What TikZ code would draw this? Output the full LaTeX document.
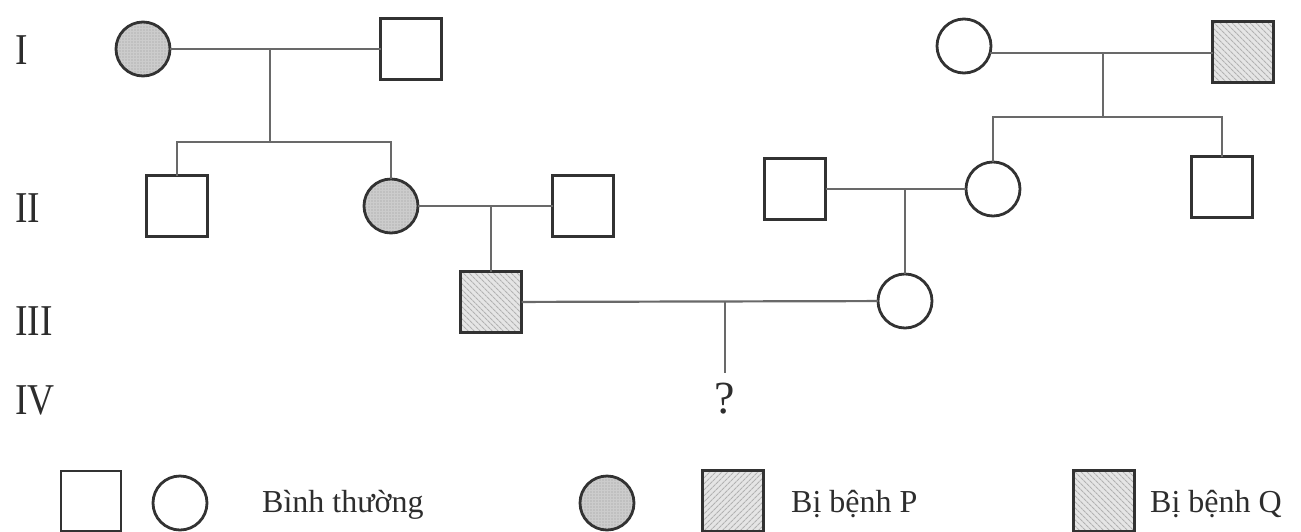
\documentclass[tikz,border=0pt]{standalone}
\usepackage{fontspec}
\setmainfont{Liberation Serif}
\newfontfamily\numfont[FakeStretch=0.85]{Liberation Serif}
\usetikzlibrary{patterns.meta}
\definecolor{linegray}{RGB}{105,105,105}
\definecolor{symdark}{RGB}{50,50,50}
\definecolor{txt}{RGB}{45,45,45}
\begin{document}
\begin{tikzpicture}[x=1pt,y=-1pt,
  conn/.style={draw=linegray, line width=2.2pt},
  sym/.style={draw=symdark, line width=2.8pt, inner sep=0pt, outer sep=0pt},
  male/.style={sym, rectangle, minimum size=61pt},
  female/.style={sym, circle, minimum size=54pt},
  pfill/.style={preaction={fill=gray!40}, pattern={Dots[radius=0.7pt,distance=3pt]}, pattern color=gray!80},
  pline/.style={preaction={fill=gray!20}, pattern={Lines[angle=45,distance=4pt,line width=1.2pt]}, pattern color=gray!60},
  qline/.style={preaction={fill=gray!20}, pattern={Lines[angle=-45,distance=4pt,line width=1.2pt]}, pattern color=gray!60},
  gen/.style={anchor=west, inner sep=0pt, text=txt, font=\numfont\fontsize{44}{44}\selectfont},
  legtext/.style={anchor=base west, inner sep=0pt, text=txt, font=\fontsize{32}{32}\selectfont}
]
\useasboundingbox (0,0) rectangle (1301,531);

% generation labels
\node[gen] (gI) at (15,50) {I};
\node[gen] (gII) at (15,208) {II};
\node[gen] (gIII) at (15,321) {III};
\node[gen] (gIV) at (15,400) {IV};

% generation I
\node[female, pfill] (I1) at (143,49) {};
\node[male] (I2) at (411,49) {};
\node[female] (I3) at (964,46) {};
\node[male, qline] (I4) at (1243,52) {};

% generation II
\node[male] (II1) at (177,206) {};
\node[female, pfill] (II2) at (391,206) {};
\node[male] (II3) at (583,206) {};
\node[male] (II4) at (795,189) {};
\node[female] (II5) at (993,189) {};
\node[male] (II6) at (1222,187) {};

% generation III
\node[male, qline] (III1) at (491,302) {};
\node[female] (III2) at (905,301) {};

% generation IV
\node[inner sep=0pt, text=txt, font=\fontsize{46}{46}\selectfont] (q) at (725,399) {?};

% connectors
\coordinate (m1) at (270,49);
\coordinate (s1) at (270,142);
\draw[conn] (I1) -- (I2);
\draw[conn] (m1) -- (s1);
\draw[conn] (II1.north) -- (II1.north |- s1) -- (II2.north |- s1) -- (II2.north);

\coordinate (m1r) at (1103,53);
\coordinate (s1r) at (1103,117);
\draw[conn] (I3.-15) -- (I3.-15 -| I4.west);
\draw[conn] (m1r) -- (s1r);
\draw[conn] (II5.north) -- (II5.north |- s1r) -- (II6.north |- s1r) -- (II6.north);

\coordinate (m2) at (491,206);
\draw[conn] (II2) -- (II3);
\draw[conn] (m2) -- (III1.north);

\coordinate (m3) at (905,189);
\draw[conn] (II4) -- (II5);
\draw[conn] (m3) -- (III2.north);

\coordinate (m4) at (725,301);
\draw[conn] (III1) -- (III2);
\draw[conn, shorten >=10pt] (m4) -- (q.north);

% legend
\node[male, minimum width=60pt, minimum height=60pt] (L1) at (91,501) {};
\node[female] (L2) at (180,503) {};
\node[legtext] (t1) at (262,512) {Bình thường};
\node[female, pfill] (L3) at (607,503) {};
\node[male, pline] (L4) at (733,501) {};
\node[legtext] (t2) at (791,512) {Bị bệnh P};
\node[male, qline] (L5) at (1104,501) {};
\node[legtext] (t3) at (1150,512) {Bị bệnh Q};
\end{tikzpicture}
\end{document}
